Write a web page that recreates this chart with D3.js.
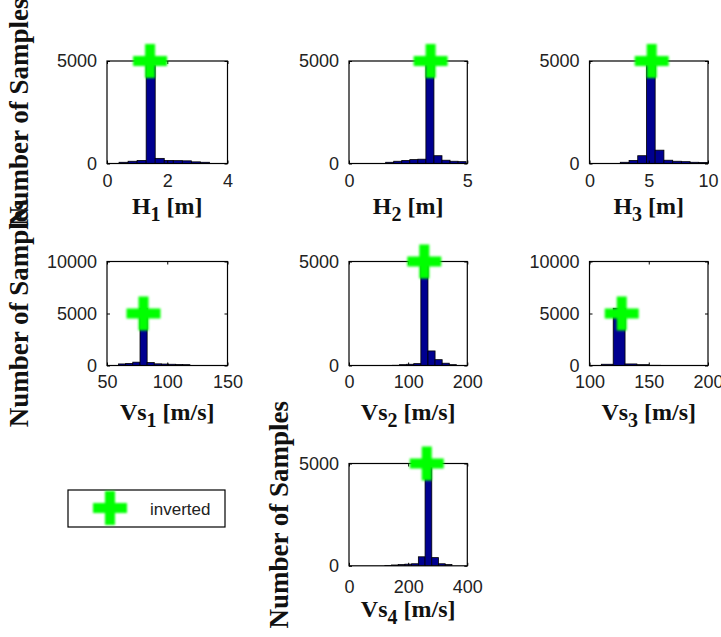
<!DOCTYPE html>
<html>
<head>
<meta charset="utf-8">
<script src="https://cdn.jsdelivr.net/npm/d3@7"></script>
<style>
  body { margin: 0; background: #fff; }
  svg { display: block; }
</style>
</head>
<body>
<svg id="chart" width="721" height="637"></svg>
<script>
// ---- parameter labels ----
const paramSymbols = ["H", "H", "H", "Vs", "Vs", "Vs", "Vs"];
const paramIndex   = ["1", "2", "3", "1", "2", "3", "4"];
const paramUnits   = ["[m]", "[m]", "[m]", "[m/s]", "[m/s]", "[m/s]", "[m/s]"];
const yAxisTitle   = "Number of Samples";
const legendLabels = ["inverted"];

// ---- axis limits and ticks ----
const xDomains    = [[0, 4], [0, 5], [0, 10], [50, 150], [0, 200], [100, 200], [0, 400]];
const yDomains    = [[0, 5000], [0, 5000], [0, 5000], [0, 10000], [0, 5000], [0, 10000], [0, 5000]];
const xTickValues = [[0, 2, 4], [0, 5], [0, 5, 10], [50, 100, 150], [0, 100, 200], [100, 150, 200], [0, 200, 400]];
const yTickValues = [[0, 5000], [0, 5000], [0, 5000], [0, 5000, 10000], [0, 5000], [0, 5000, 10000], [0, 5000]];

// ---- histogram bins (edges) and sample counts ----
const h1Edges  = [0.40, 0.70, 1.00, 1.30, 1.60, 1.90, 2.20, 2.50, 2.80, 3.10, 3.40];
const h1Counts = [60, 110, 150, 4800, 250, 150, 140, 130, 80, 60];
const h2Edges  = [1.55, 1.89, 2.23, 2.57, 2.91, 3.25, 3.59, 3.93, 4.27, 4.61, 4.95];
const h2Counts = [60, 110, 150, 190, 210, 4800, 380, 160, 110, 90];
const h3Edges  = [2.60, 3.34, 4.07, 4.81, 5.54, 6.28, 7.02, 7.75, 8.49, 9.22, 9.96];
const h3Counts = [60, 150, 380, 4800, 650, 160, 110, 90, 60, 50];
const vs1Edges  = [59.6, 65.5, 71.4, 77.4, 83.3, 89.2, 95.1, 101.0, 107.0, 112.9, 118.8];
const vs1Counts = [150, 200, 320, 5500, 280, 160, 140, 120, 100, 80];
const vs2Edges  = [61.5, 73.5, 85.5, 97.5, 109.5, 121.5, 133.5, 145.5, 157.5, 169.5, 181.5];
const vs2Counts = [5, 10, 40, 60, 90, 4800, 700, 280, 110, 40];
const vs3Edges  = [100, 110, 120, 130, 140, 150, 160, 170, 180, 190, 200];
const vs3Counts = [10, 120, 5500, 150, 80, 20, 10, 5, 3, 2];
const vs4Edges  = [121, 143.7, 166.4, 189.1, 211.8, 234.5, 257.2, 279.9, 302.6, 325.3, 348];
const vs4Counts = [20, 40, 60, 80, 100, 440, 4800, 400, 100, 60];

// ---- inverted model (marker) ----
const invertedValues = [1.43, 3.45, 5.25, 80.3, 127.3, 127.2, 263];
const invertedCounts = [5000, 5000, 5000, 5000, 5000, 5000, 5000];

const histEdges  = [h1Edges, h2Edges, h3Edges, vs1Edges, vs2Edges, vs3Edges, vs4Edges];
const histCounts = [h1Counts, h2Counts, h3Counts, vs1Counts, vs2Counts, vs3Counts, vs4Counts];

// ---- layout ----
const colX = [107, 349, 589.5];
const colW = [120.5, 118.3, 118.5];
const rowY = [61, 261.5, 463.5];
const rowH = [102.5, 104, 102.3];
const cells = [[0, 0], [1, 0], [2, 0], [0, 1], [1, 1], [2, 1], [1, 2]];
const xTitleOffset = [50, 54, 51];
const xTickPad = [11, 10, 14];
const yTitlePanels = [{ panel: 0, dx: -79 }, { panel: 3, dx: -79 }, { panel: 6, dx: -61 }];

const barFill = "#000090";
const markerColor = "#00ff00";
const tickFont = "'Liberation Sans', Arial, sans-serif";
const titleFont = "'Liberation Serif', 'Times New Roman', serif";

const svg = d3.select("#chart");
const defs = svg.append("defs");
defs.append("filter").attr("id", "soft")
  .attr("x", "-30%").attr("y", "-30%").attr("width", "160%").attr("height", "160%")
  .append("feGaussianBlur").attr("stdDeviation", 0.8);

function crossPath(cx, cy, r) {
  return `M${cx - r},${cy}H${cx + r}M${cx},${cy - r}V${cy + r}`;
}

const panels = cells.map((c, i) => ({
  i,
  left: colX[c[0]], top: rowY[c[1]], w: colW[c[0]], h: rowH[c[1]], row: c[1]
}));

panels.forEach(p => {
  const i = p.i;
  const x = d3.scaleLinear().domain(xDomains[i]).range([0, p.w]);
  const y = d3.scaleLinear().domain(yDomains[i]).range([p.h, 0]);
  const g = svg.append("g").attr("transform", `translate(${p.left},${p.top})`);

  defs.append("clipPath").attr("id", "clip" + i)
    .append("rect").attr("width", p.w).attr("height", p.h);

  const bins = histCounts[i].map((n, k) => ({ x0: histEdges[i][k], x1: histEdges[i][k + 1], n }));

  g.append("g").attr("clip-path", `url(#clip${i})`)
    .selectAll("rect").data(bins).join("rect")
    .attr("x", d => x(d.x0))
    .attr("width", d => x(d.x1) - x(d.x0))
    .attr("y", d => y(d.n))
    .attr("height", d => y(0) - y(d.n))
    .attr("fill", barFill)
    .attr("stroke", "#000")
    .attr("stroke-width", 0.8);

  // axes with inward ticks
  const styleAxis = sel => {
    sel.select(".domain").remove();
    sel.selectAll(".tick line").attr("stroke", "#000");
    sel.selectAll("text").attr("font-family", tickFont).attr("font-size", 18).attr("fill", "#222");
  };
  g.append("g").attr("transform", `translate(0,${p.h})`)
    .call(d3.axisBottom(x).tickValues(xTickValues[i]).tickSize(-3).tickPadding(xTickPad[p.row]).tickFormat(d3.format("d")))
    .call(styleAxis);
  g.append("g")
    .call(d3.axisLeft(y).tickValues(yTickValues[i]).tickSize(-3).tickPadding(10).tickFormat(d3.format("d")))
    .call(styleAxis);
  g.append("g")
    .call(d3.axisTop(x).tickValues(xTickValues[i]).tickSize(-3).tickFormat(""))
    .call(styleAxis);
  g.append("g").attr("transform", `translate(${p.w},0)`)
    .call(d3.axisRight(y).tickValues(yTickValues[i]).tickSize(-3).tickFormat(""))
    .call(styleAxis);

  g.append("rect").attr("width", p.w).attr("height", p.h)
    .attr("fill", "none").attr("stroke", "#000").attr("stroke-width", 1.2);

  // inverted marker
  g.append("path")
    .attr("d", crossPath(x(invertedValues[i]), y(invertedCounts[i]), 17))
    .attr("stroke", markerColor).attr("stroke-width", 10).attr("fill", "none")
    .attr("filter", "url(#soft)");

  // x title with subscript
  const t = g.append("text")
    .attr("x", p.w / 2).attr("y", p.h + xTitleOffset[p.row])
    .attr("text-anchor", "middle")
    .attr("font-family", titleFont).attr("font-size", 24).attr("font-weight", "bold")
    .attr("fill", "#111");
  t.append("tspan").text(paramSymbols[i]);
  t.append("tspan").attr("dy", 7).attr("font-size", 20).text(paramIndex[i]);
  t.append("tspan").attr("dy", -7).attr("dx", 6).text(paramUnits[i]);
});

// y titles
yTitlePanels.forEach(d => {
  const p = panels[d.panel];
  const cx = p.left + d.dx, cy = p.top + p.h / 2;
  svg.append("text")
    .attr("transform", `translate(${cx},${cy}) rotate(-90)`)
    .attr("text-anchor", "middle")
    .attr("font-family", titleFont).attr("font-size", 27).attr("font-weight", "bold")
    .attr("fill", "#111")
    .text(yAxisTitle);
});

// legend
const lg = svg.append("g").attr("transform", "translate(68,490)");
lg.append("rect").attr("width", 157).attr("height", 37)
  .attr("fill", "#fff").attr("stroke", "#000").attr("stroke-width", 1.2);
lg.append("path").attr("d", crossPath(42, 18, 17))
  .attr("stroke", markerColor).attr("stroke-width", 10).attr("fill", "none")
  .attr("filter", "url(#soft)");
lg.selectAll("text.lab").data(legendLabels).join("text")
  .attr("class", "lab")
  .attr("x", 82).attr("y", 25)
  .attr("font-family", tickFont).attr("font-size", 17).attr("fill", "#222")
  .text(d => d);
</script>
</body>
</html>
